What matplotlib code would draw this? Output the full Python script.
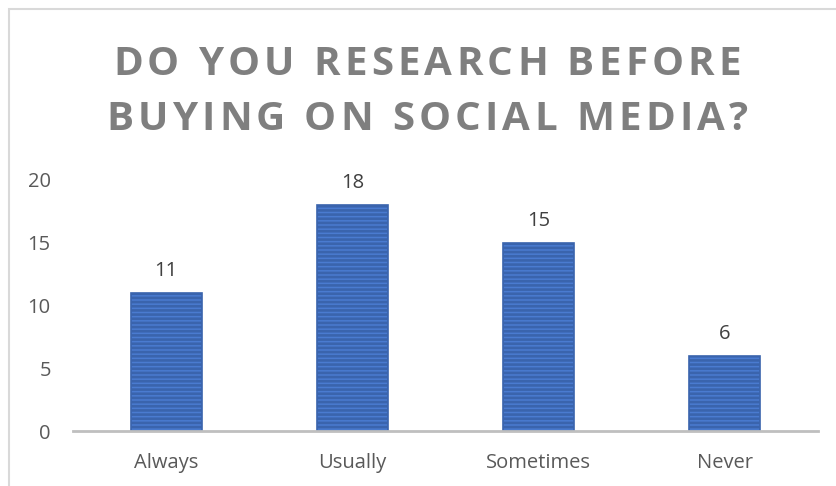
import matplotlib.pyplot as plt
from matplotlib.patches import Rectangle
from matplotlib.font_manager import FontProperties, findfont
from matplotlib.ft2font import FT2Font

categories = ['Always', 'Usually', 'Sometimes', 'Never']
counts = [11, 18, 15, 6]
yticks = [0, 5, 10, 15, 20]
title_lines = ['DO YOU RESEARCH BEFORE', 'BUYING ON SOCIAL MEDIA?']

plt.rcParams['font.family'] = ['Open Sans', 'DejaVu Sans']
plt.rcParams['hatch.color'] = '#dfe8f8'
plt.rcParams['hatch.linewidth'] = 1.9

W, H = 837, 486
fig = plt.figure(figsize=(W / 100, H / 100), dpi=100)
# chart border (only top/left visible in the reference)
fig.patches.append(Rectangle((9 / W, -0.1), 1.2, 1 - 9 / H + 0.1, transform=fig.transFigure,
                             fill=False, edgecolor='#d9d9d9', linewidth=1.5))

ax = fig.add_axes([73 / W, 1 - 431 / H, (818 - 73) / W, (431 - 180) / H])
x = range(len(categories))
ax.bar(x, counts, width=0.38, color='#4a7bd0', edgecolor='#3a64ad', linewidth=1.2,
       hatch='----', zorder=2)
for xi, v in zip(x, counts):
    ax.text(xi, v + 0.95, str(v), ha='center', va='bottom', fontsize=14.5, color='#404040')

ax.set_xlim(-0.5, len(categories) - 0.5)
ax.set_ylim(0, 20)
ax.set_yticks(yticks)
ax.set_xticks(list(x))
ax.set_xticklabels(categories)
ax.tick_params(length=0, labelsize=14.5, colors='#595959')
ax.tick_params(axis='x', pad=16)
ax.tick_params(axis='y', pad=16)
for s in ['top', 'right', 'left']:
    ax.spines[s].set_visible(False)
ax.spines['bottom'].set_color('#bfbfbf')
ax.spines['bottom'].set_linewidth(2)

# title with letter spacing, drawn char by char
tsize = 29
fp = FontProperties(family='Open Sans', weight='bold', size=tsize)
font = FT2Font(findfont(fp))
font.set_size(tsize, 100)


def advances(s):
    return [font.load_char(ord(c)).linearHoriAdvance / 65536 for c in s]


adv0 = advances(title_lines[0])
spacing = (628 - sum(adv0)) / (len(title_lines[0]) - 1)
cx = 427
for line, ybase in zip(title_lines, [75, 130]):
    adv = advances(line)
    total = sum(adv) + spacing * (len(line) - 1)
    px = cx - total / 2
    for c, a in zip(line, adv):
        fig.text(px / W, 1 - ybase / H, c, ha='left', va='baseline', fontproperties=fp,
                 color='#7f7f7f')
        px += a + spacing

fig.savefig('out.png', dpi=100)
